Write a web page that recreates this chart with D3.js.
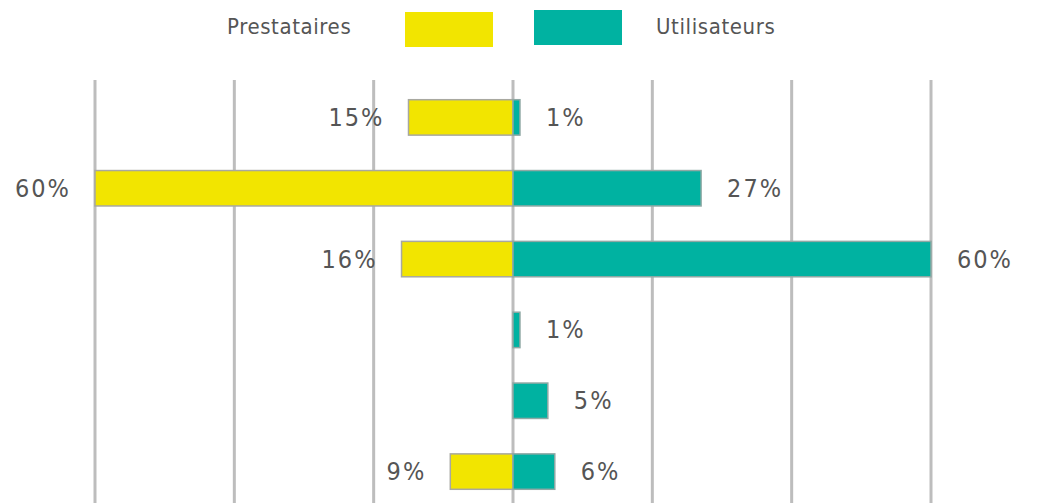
<!DOCTYPE html>
<html>
<head>
<meta charset="utf-8">
<script src="https://cdn.jsdelivr.net/npm/d3@7"></script>
<style>
  html, body { margin: 0; padding: 0; background: #fff; }
  svg text { font-family: "DejaVu Sans Condensed", "Liberation Sans Narrow", sans-serif; fill: #555; }
</style>
</head>
<body>
<div id="chart"></div>
<script>
const rows = ['r1', 'r2', 'r3', 'r4', 'r5', 'r6'];
const prestataires = [15, 60, 16, 0, 0, 9];
const utilisateurs = [1, 27, 60, 1, 5, 6];
const gridTicks = [-60, -40, -20, 0, 20, 40, 60];
const seriesNames = ['Prestataires', 'Utilisateurs'];

const width = 1048, height = 503;
const yellow = '#f2e500', teal = '#00b2a1';

const x = d3.scaleLinear().domain([-60, 60]).range([95, 931]);
const y = d3.scaleBand().domain(rows).range([82, 507]).paddingInner(0.5).paddingOuter(0.25);

const svg = d3.select('#chart').append('svg')
    .attr('width', width)
    .attr('height', height);

// vertical gridlines
svg.append('g').selectAll('line')
    .data(gridTicks)
    .join('line')
    .attr('x1', d => x(d)).attr('x2', d => x(d))
    .attr('y1', 80).attr('y2', height)
    .attr('stroke', '#bdbdbd')
    .attr('stroke-width', 3);

const data = rows.map((r, i) => ({ row: r, p: prestataires[i], u: utilisateurs[i] }));

// Prestataires (left)
svg.append('g').selectAll('rect')
    .data(data.filter(d => d.p > 0))
    .join('rect')
    .attr('x', d => x(-d.p))
    .attr('y', d => y(d.row))
    .attr('width', d => x(0) - x(-d.p))
    .attr('height', y.bandwidth())
    .attr('fill', yellow)
    .attr('stroke', '#a8a8a0')
    .attr('stroke-width', 1.5);

// Utilisateurs (right)
svg.append('g').selectAll('rect')
    .data(data.filter(d => d.u > 0))
    .join('rect')
    .attr('x', x(0))
    .attr('y', d => y(d.row))
    .attr('width', d => x(d.u) - x(0))
    .attr('height', y.bandwidth())
    .attr('fill', teal)
    .attr('stroke', '#8fa8a4')
    .attr('stroke-width', 1.5);

const labelStyle = sel => sel
    .attr('font-size', 25)
    .attr('letter-spacing', 2)
    .attr('dominant-baseline', 'central');

svg.append('g').selectAll('text')
    .data(data.filter(d => d.p > 0))
    .join('text')
    .attr('x', d => x(-d.p) - 24)
    .attr('y', d => y(d.row) + y.bandwidth() / 2)
    .attr('text-anchor', 'end')
    .call(labelStyle)
    .text(d => d.p + '%');

svg.append('g').selectAll('text')
    .data(data.filter(d => d.u > 0))
    .join('text')
    .attr('x', d => x(d.u) + 26)
    .attr('y', d => y(d.row) + y.bandwidth() / 2)
    .attr('text-anchor', 'start')
    .call(labelStyle)
    .text(d => d.u + '%');

// legend
const legend = svg.append('g');
legend.append('text')
    .attr('x', 227).attr('y', 26)
    .attr('font-size', 22).attr('letter-spacing', 0.6)
    .attr('dominant-baseline', 'central')
    .text(seriesNames[0]);
legend.append('rect')
    .attr('x', 405).attr('y', 12).attr('width', 88).attr('height', 35)
    .attr('fill', yellow);
legend.append('rect')
    .attr('x', 534).attr('y', 10).attr('width', 88).attr('height', 35)
    .attr('fill', teal);
legend.append('text')
    .attr('x', 656).attr('y', 26)
    .attr('font-size', 22).attr('letter-spacing', 0.6)
    .attr('dominant-baseline', 'central')
    .text(seriesNames[1]);
</script>
</body>
</html>
